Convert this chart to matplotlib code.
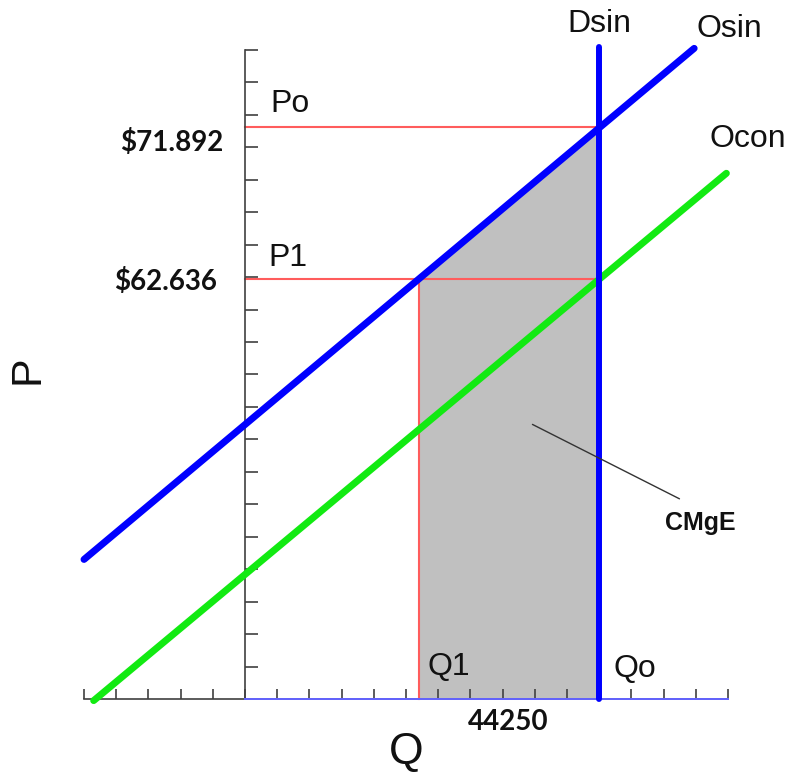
"""Supply / demand diagram with the external marginal cost (CMgE) area."""
import matplotlib

matplotlib.use("Agg")
import matplotlib.pyplot as plt

# Diagram units: one tick = one unit on each axis.
q_ticks = list(range(-5, 16))
p_ticks = list(range(0, 21))

# Osin (private supply) and Ocon (social supply) end points
osin_q = [-5.0, 13.95]
osin_p = [4.3, 20.05]
ocon_q = [-4.7, 14.95]
ocon_p = [-0.05, 16.2]

# Dsin (demand), vertical at Qo
dsin_p = [0.0, 20.1]

q_o, q_1 = 11.0, 5.4
p_o, p_1 = 17.63, 12.94

price_labels = ["$71.892", "$62.636"]
qty_label = "44250"

BLUE = "#0000ff"
GREEN = "#12ea12"
RED = "#ff5c5c"
GREY_FILL = "#c0c0c0"
AXIS = "#404040"

fig = plt.figure(figsize=(7.91, 7.72), dpi=100)
ax = fig.add_axes([0, 0, 1, 1])
ax.set_xlim(-7.609, 16.957)
ax.set_ylim(-2.25, 21.54)

# Axes drawn as spines crossing at the origin
for side in ("top", "right"):
    ax.spines[side].set_visible(False)
ax.spines["left"].set_position(("data", 0))
ax.spines["bottom"].set_position(("data", 0))
ax.spines["left"].set_bounds(0, 20)
ax.spines["bottom"].set_bounds(-5, 15)
for side in ("left", "bottom"):
    ax.spines[side].set_color(AXIS)
    ax.spines[side].set_linewidth(1.2)
ax.set_xticks(q_ticks)
ax.set_yticks(p_ticks)
ax.tick_params(axis="y", direction="in", length=9, width=1.2, color=AXIS,
               labelleft=False)
ax.tick_params(axis="x", direction="in", length=7, width=1.2, color=AXIS,
               labelbottom=False)
# right half of the Q axis is drawn in blue
ax.plot([0, q_ticks[-1]], [0, 0], color="#6464ff", lw=1.4, zorder=3)

# Shaded area between Q1 and Qo under Osin
ax.fill([q_1, q_1, q_o, q_o], [0, p_1, p_o, 0], color=GREY_FILL, lw=0, zorder=1)

# Guide lines
ax.plot([0, q_o], [p_o, p_o], color=RED, lw=1.5, zorder=2)
ax.plot([0, q_o], [p_1, p_1], color=RED, lw=1.5, zorder=2)
ax.plot([q_1, q_1], [0, p_1], color=RED, lw=1.5, zorder=2)

# Curves
ax.plot(ocon_q, ocon_p, color=GREEN, lw=5, solid_capstyle="round", zorder=4)
ax.plot(osin_q, osin_p, color=BLUE, lw=5, solid_capstyle="round", zorder=5)
ax.plot([q_o, q_o], dsin_p, color=BLUE, lw=4.3, solid_capstyle="round", zorder=6)

lab = dict(family="Liberation Sans", fontsize=23, color="#111111")
ax.text(q_o, 20.8, "Dsin", ha="center", va="center", **lab)
ax.text(15.03, 20.65, "Osin", ha="center", va="center", **lab)
ax.text(15.62, 17.26, "Ocon", ha="center", va="center", **lab)
ax.text(0.78, 18.34, "Po", ha="left", va="center", **lab)
ax.text(0.74, 13.59, "P1", ha="left", va="center", **lab)
ax.text(5.68, 1.0, "Q1", ha="left", va="center", **lab)
ax.text(11.43, 0.93, "Qo", ha="left", va="center", **lab)

ax.text(5.0, -1.66, "Q", ha="center", va="center", family="Liberation Sans",
        fontsize=32, color="#111111")
ax.text(-6.77, 10.14, "P", ha="center", va="center", rotation=90,
        family="Liberation Sans", fontsize=31, color="#111111")

num = dict(family="Lato", fontsize=20, fontweight="bold", color="#111111")
ax.text(-0.68, 17.16, price_labels[0], ha="right", va="center", **num)
ax.text(-0.87, 12.85, price_labels[1], ha="right", va="center", **num)
ax.text(8.17, -0.71, qty_label, ha="center", va="center", **num)

# CMgE pointer
ax.annotate("", xy=(8.85, 8.5), xytext=(13.57, 6.13),
            arrowprops=dict(arrowstyle="-", color="#333333", lw=1.0),
            zorder=7)
ax.text(14.13, 5.42, "CMgE", ha="center", va="center",
        family="Liberation Sans", fontsize=18, fontweight="bold",
        color="#111111")

fig.savefig("out.png", dpi=100, facecolor="white")
